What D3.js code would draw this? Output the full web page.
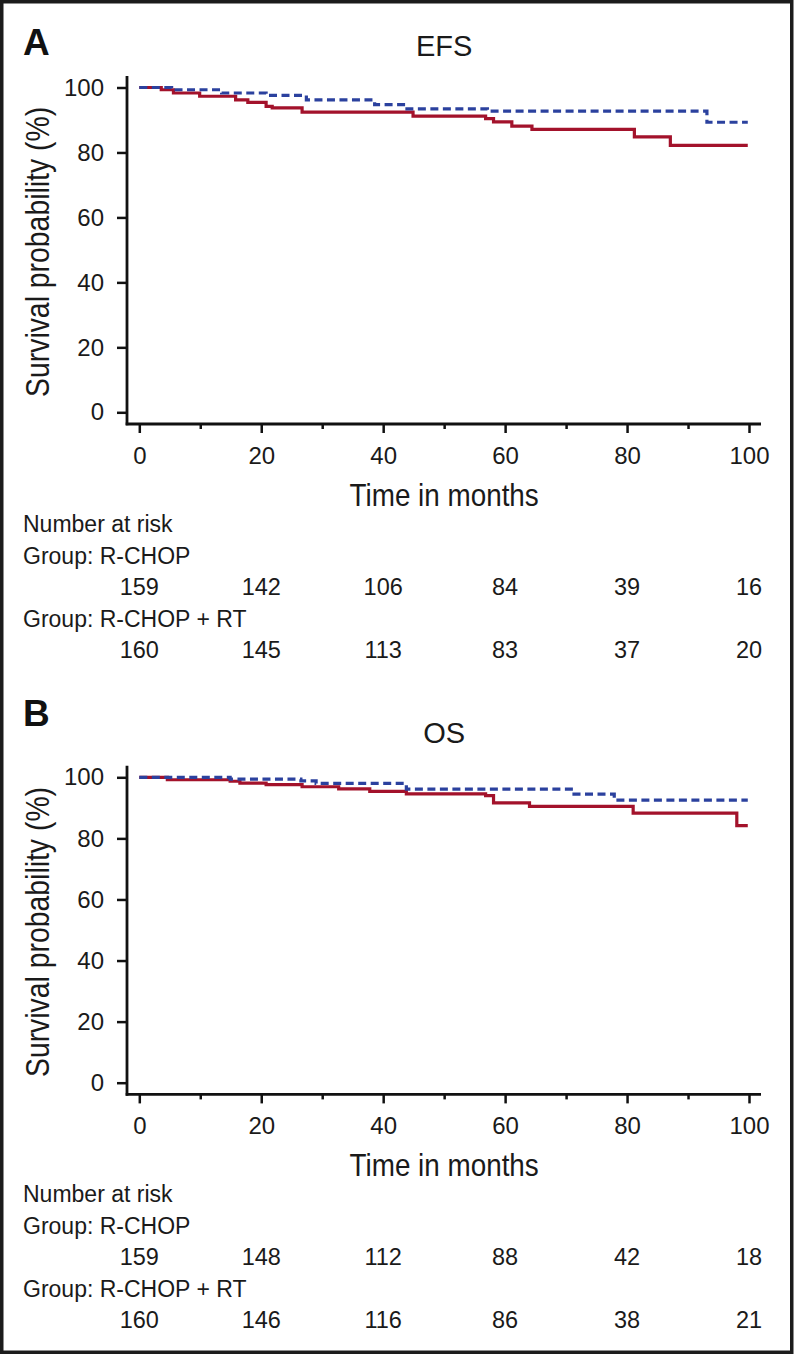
<!DOCTYPE html>
<html>
<head>
<meta charset="utf-8">
<script src="https://cdn.jsdelivr.net/npm/d3@7"></script>
<style>
  body { margin: 0; background: #fff; }
  svg { display: block; font-family: "Liberation Sans", Arial, Helvetica, sans-serif; }
</style>
</head>
<body>
<svg id="chart" width="798" height="1355"></svg>
<script>
// tick labels
var timeTicks = [0, 20, 40, 60, 80, 100];
var minorTicks = [10, 30, 50, 70, 90];
var survTicks = [0, 20, 40, 60, 80, 100];
var groupNames = ["R-CHOP", "R-CHOP + RT"];

// EFS step curves (months, survival %)
var efsChopTime = [0, 3.6, 5.6, 9.9, 15.8, 17.8, 20.8, 21.8, 26.7, 44.9, 56.8, 58.1, 61.1, 64.4, 81.2, 87.1, 99.8];
var efsChopSurv = [100, 99.3, 98.3, 97.3, 96.2, 95.4, 94.2, 93.7, 92.4, 91.2, 90.4, 89.4, 88.1, 87.1, 84.8, 82.2, 82.2];
var efsRtTime = [0, 5.3, 13.5, 20.8, 27.4, 38.6, 43.9, 57.1, 93.1, 99.8];
var efsRtSurv = [100, 99.3, 98.3, 97.6, 96.2, 94.7, 93.4, 92.7, 89.3, 89.3];

// OS step curves
var osChopTime = [0, 4.6, 14.9, 16.5, 20.8, 26.7, 32.7, 37.8, 43.8, 56.8, 58.1, 64.0, 81.0, 98.0, 99.8];
var osChopSurv = [100, 99.2, 98.7, 98.1, 97.6, 96.9, 96.2, 95.4, 94.6, 94.0, 91.6, 90.5, 88.3, 84.2, 84.2];
var osRtTime = [0, 14.9, 26.5, 29.0, 43.8, 71.3, 77.9, 99.8];
var osRtSurv = [100, 99.4, 98.8, 98.0, 96.1, 94.5, 92.5, 92.5];

// number at risk
var efsRiskChop = [159, 142, 106, 84, 39, 16];
var efsRiskRt = [160, 145, 113, 83, 37, 20];
var osRiskChop = [159, 148, 112, 88, 42, 18];
var osRiskRt = [160, 146, 116, 86, 38, 21];

var redColor = "#a3122b",
    blueColor = "#2b419e",
    inkColor = "#1a1a1a";

var svg = d3.select("#chart");

svg.append("rect")
  .attr("x", 1.75).attr("y", 1.75)
  .attr("width", 790).attr("height", 1350.5)
  .attr("fill", "#fff")
  .attr("stroke", "#1c1c1c")
  .attr("stroke-width", 3.5);

function toPoints(times, surv){
  return times.map(function(t, i){ return {t: t, s: surv[i]}; });
}

function drawPanel(p){
  var x = d3.scaleLinear().domain([0, 100]).range([139.3, 749]);
  var y = d3.scaleLinear().domain([0, 100]).range([p.bottom, p.top]);
  var axisY = y(0) + 11.7,
      axisX = x(0) - 12.3;

  var g = svg.append("g");

  // panel letter and title
  g.append("text")
    .attr("x", 23).attr("y", p.letterY)
    .attr("font-size", 37).attr("font-weight", "bold")
    .attr("fill", "#111")
    .text(p.letter);

  g.append("text")
    .attr("x", (x(0) + x(100)) / 2).attr("y", p.titleY)
    .attr("text-anchor", "middle")
    .attr("font-size", 29)
    .attr("fill", inkColor)
    .text(p.title);

  // y axis
  var yAxis = d3.axisLeft(y).tickValues(survTicks).tickSize(10).tickPadding(13);
  var yg = g.append("g")
    .attr("transform", "translate(" + axisX + ",0)")
    .call(yAxis);
  yg.select(".domain").remove();
  yg.selectAll(".tick line").attr("stroke", "#111").attr("stroke-width", 2.5);
  yg.selectAll(".tick text").attr("font-size", 24).attr("fill", inkColor)
    .attr("font-family", "Liberation Sans, Arial, sans-serif");
  g.append("line")
    .attr("x1", axisX).attr("x2", axisX)
    .attr("y1", y(100) - 11.5).attr("y2", axisY + 1.3)
    .attr("stroke", "#111").attr("stroke-width", 2.8);

  // x axis
  var xAxis = d3.axisBottom(x).tickValues(timeTicks).tickSize(9).tickPadding(14);
  var xg = g.append("g")
    .attr("transform", "translate(0," + axisY + ")")
    .call(xAxis);
  xg.select(".domain").remove();
  xg.selectAll(".tick line").attr("stroke", "#111").attr("stroke-width", 2.5);
  xg.selectAll(".tick text").attr("font-size", 24).attr("fill", inkColor)
    .attr("font-family", "Liberation Sans, Arial, sans-serif");

  var xMinor = d3.axisBottom(x).tickValues(minorTicks).tickSize(5).tickFormat("");
  var xmg = g.append("g")
    .attr("transform", "translate(0," + axisY + ")")
    .call(xMinor);
  xmg.select(".domain").remove();
  xmg.selectAll(".tick line").attr("stroke", "#111").attr("stroke-width", 2.5);

  g.append("line")
    .attr("x1", axisX - 1.3).attr("x2", x(100) + 12)
    .attr("y1", axisY).attr("y2", axisY)
    .attr("stroke", "#111").attr("stroke-width", 2.8);

  // axis titles (condensed face)
  g.append("text")
    .attr("transform", "translate(49," + ((y(0) + y(100)) / 2 + 2) + ") rotate(-90) scale(0.86,1)")
    .attr("text-anchor", "middle")
    .attr("font-size", 33)
    .attr("fill", inkColor)
    .text("Survival probability (%)");

  g.append("text")
    .attr("transform", "translate(" + ((x(0) + x(100)) / 2) + "," + (axisY + 82) + ") scale(0.87,1)")
    .attr("text-anchor", "middle")
    .attr("font-size", 32)
    .attr("fill", inkColor)
    .text("Time in months");

  // curves
  var line = d3.line()
    .curve(d3.curveStepAfter)
    .x(function(d){ return x(d.t); })
    .y(function(d){ return y(d.s); });

  g.append("path")
    .datum(toPoints(p.chopTime, p.chopSurv))
    .attr("fill", "none")
    .attr("stroke", redColor)
    .attr("stroke-width", 3.2)
    .attr("d", line);

  g.append("path")
    .datum(toPoints(p.rtTime, p.rtSurv))
    .attr("fill", "none")
    .attr("stroke", blueColor)
    .attr("stroke-width", 3.2)
    .attr("stroke-dasharray", "8,4.5")
    .attr("d", line);

  // number at risk table
  var rowY = axisY + 108,
      rowStep = 31.5;
  var rows = [
    {label: "Number at risk"},
    {label: "Group: " + groupNames[0]},
    {values: p.riskChop},
    {label: "Group: " + groupNames[1]},
    {values: p.riskRt}
  ];
  rows.forEach(function(r, i){
    var yy = rowY + i * rowStep;
    if (r.label){
      g.append("text")
        .attr("x", 23).attr("y", yy)
        .attr("font-size", 23)
        .attr("fill", inkColor)
        .text(r.label);
    } else {
      g.selectAll(null)
        .data(r.values)
        .enter().append("text")
        .attr("x", function(d, j){ return x(timeTicks[j]); })
        .attr("y", yy)
        .attr("text-anchor", "middle")
        .attr("font-size", 23.5)
        .attr("fill", inkColor)
        .text(function(d){ return d; });
    }
  });
}

drawPanel({
  letter: "A", letterY: 55, title: "EFS", titleY: 56,
  top: 87.5, bottom: 412.3,
  chopTime: efsChopTime, chopSurv: efsChopSurv,
  rtTime: efsRtTime, rtSurv: efsRtSurv,
  riskChop: efsRiskChop, riskRt: efsRiskRt
});

drawPanel({
  letter: "B", letterY: 726, title: "OS", titleY: 743,
  top: 777.3, bottom: 1082.7,
  chopTime: osChopTime, chopSurv: osChopSurv,
  rtTime: osRtTime, rtSurv: osRtSurv,
  riskChop: osRiskChop, riskRt: osRiskRt
});
</script>
</body>
</html>
